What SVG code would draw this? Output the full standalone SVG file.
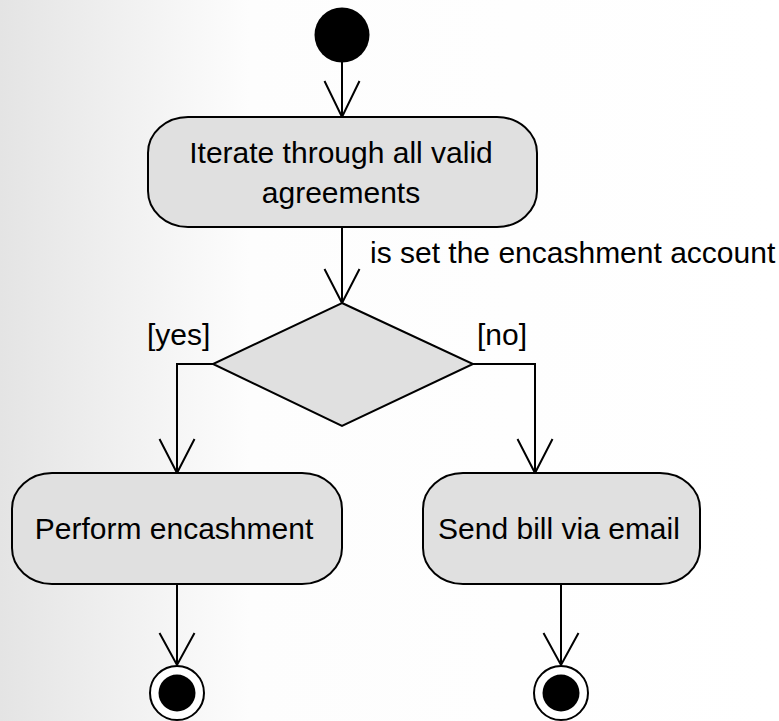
<svg xmlns="http://www.w3.org/2000/svg" width="779" height="721" viewBox="0 0 779 721">
<defs>
<linearGradient id="bg" x1="0" y1="0" x2="1" y2="0">
<stop offset="0" stop-color="#e4e4e4"/>
<stop offset="0.32" stop-color="#fdfdfd"/>
<stop offset="1" stop-color="#ffffff"/>
</linearGradient>
</defs>
<style>
.node{fill:#e0e0e0;stroke:#000;stroke-width:2}
.edge{fill:none;stroke:#000;stroke-width:2}
.head{fill:none;stroke:#000;stroke-width:2}
.t{font-family:"Liberation Sans",Arial,sans-serif;font-size:30px;fill:#000}
</style>
<rect x="0" y="0" width="779" height="721" fill="url(#bg)"/>
<g id="connectors">
<path class="edge" d="M342,62 L342,117"/>
<path class="head" d="M324.5,81 L342,117 L359.5,81"/>
<path class="edge" d="M342,227 L342,303"/>
<path class="head" d="M324.5,269 L342,303 L359.5,269"/>
<text class="t" x="370" y="263">is set the encashment account</text>
<path class="edge" d="M213,364 L177,364 L177,473"/>
<path class="head" d="M159.5,439 L177,473 L194.5,439"/>
<text class="t" x="147" y="345">[yes]</text>
<path class="edge" d="M473,364 L535,364 L535,473"/>
<path class="head" d="M517.5,439 L535,473 L552.5,439"/>
<text class="t" x="477" y="345">[no]</text>
<path class="edge" d="M177,584 L177,665"/>
<path class="head" d="M159.5,633 L177,665 L194.5,633"/>
<path class="edge" d="M561,584 L561,665"/>
<path class="head" d="M543.5,633 L561,665 L578.5,633"/>
</g>
<g id="start">
<circle cx="342" cy="35" r="27.5" fill="#000"/>
</g>
<g id="iterate">
<rect class="node" x="148" y="117" width="389" height="110" rx="40" ry="36"/>
<text class="t" x="341" y="163" text-anchor="middle">Iterate through all valid</text>
<text class="t" x="341" y="203" text-anchor="middle">agreements</text>
</g>
<g id="decision">
<polygon class="node" points="342,303 473,364 342,426 213,364"/>
</g>
<g id="perform">
<rect class="node" x="12" y="473" width="330" height="111" rx="40" ry="36"/>
<text class="t" x="174" y="539" text-anchor="middle">Perform encashment</text>
</g>
<g id="send">
<rect class="node" x="423" y="473" width="277" height="111" rx="40" ry="36"/>
<text class="t" x="559" y="539" text-anchor="middle">Send bill via email</text>
</g>
<g id="end1">
<circle cx="177" cy="693" r="27" fill="#fff" stroke="#000" stroke-width="2"/>
<circle cx="177" cy="693" r="18.5" fill="#000"/>
</g>
<g id="end2">
<circle cx="561" cy="693" r="27" fill="#fff" stroke="#000" stroke-width="2"/>
<circle cx="561" cy="693" r="18.5" fill="#000"/>
</g>
</svg>
